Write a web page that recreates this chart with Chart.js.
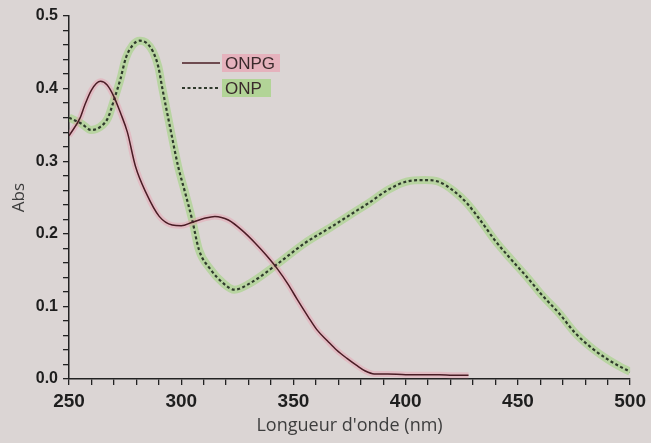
<!DOCTYPE html>
<html>
<head>
<meta charset="utf-8">
<script src="https://cdn.jsdelivr.net/npm/chart.js@4.4.1/dist/chart.umd.min.js"></script>
<style>
    html, body { margin: 0; padding: 0; background: #dbd5d4; }
    #wrap { width: 651px; height: 443px; }
</style>
</head>
<body>
<div id="wrap"><canvas id="spectre" width="651" height="443"></canvas></div>
<script>
// wavelengths (nm) and absorbance
const onpgNm = [250, 255, 257, 260, 264, 267, 270, 273, 276, 279.6, 284.4, 290.2, 296, 300, 305, 310, 315, 321, 327, 333, 338, 343, 347.7, 351.6, 356.5, 360.4, 365.3, 369.2, 374, 378, 382, 386, 392, 400, 408, 415, 421, 428];
const onpgAbs = [0.335, 0.360, 0.377, 0.398, 0.410, 0.405, 0.389, 0.366, 0.340, 0.293, 0.256, 0.224, 0.212, 0.211, 0.216, 0.221, 0.224, 0.219, 0.205, 0.187, 0.170, 0.151, 0.130, 0.110, 0.086, 0.068, 0.052, 0.040, 0.028, 0.019, 0.011, 0.007, 0.007, 0.006, 0.006, 0.006, 0.005, 0.005];

const onpNm = [250, 255.9, 259.8, 263.8, 267.4, 270, 272.9, 275.3, 278.4, 281.5, 284.5, 287.4, 289.8, 291.6, 295.4, 298.6, 301.8, 304.9, 307.9, 312.8, 318.7, 323.7, 330.7, 341.8, 355, 367.1, 376.2, 383.3, 392.4, 400.4, 408.5, 414.4, 421.4, 427.3, 433.2, 439.5, 446.9, 454.7, 460.6, 468.5, 475.3, 483.2, 490, 495, 500];
const onpAbs = [0.360, 0.351, 0.343, 0.347, 0.360, 0.384, 0.413, 0.442, 0.460, 0.466, 0.463, 0.451, 0.430, 0.400, 0.341, 0.293, 0.256, 0.219, 0.178, 0.152, 0.132, 0.123, 0.132, 0.156, 0.187, 0.210, 0.228, 0.242, 0.261, 0.272, 0.274, 0.272, 0.259, 0.242, 0.219, 0.192, 0.165, 0.138, 0.116, 0.090, 0.064, 0.042, 0.027, 0.018, 0.010];

const seriesNames = ['ONPG', 'ONP'];
const yTickLabels = ['0.0', '0.1', '0.2', '0.3', '0.4', '0.5'];
const xTickLabels = ['250', '300', '350', '400', '450', '500'];

function toPoints(xs, ys) {
    return xs.map(function (x, i) { return {x: x, y: ys[i]}; });
}

// legend drawn by hand: line sample + highlighted label
const legendPlugin = {
    id: 'surligneLegende',
    afterDraw(chart) {
        const ctx = chart.ctx;
        const rows = [
            {name: seriesNames[0], y: 63, box: 'rgba(236,150,170,0.55)', dash: [], w: 58},
            {name: seriesNames[1], y: 88, box: 'rgba(150,212,110,0.6)', dash: [3, 2.5], w: 49}
        ];
        ctx.save();
        rows.forEach(function (r) {
            ctx.fillStyle = r.box;
            ctx.fillRect(222, r.y - 9, r.w, 18);
            ctx.strokeStyle = r.dash.length ? '#2f3a2c' : '#4a1c25';
            ctx.lineWidth = r.dash.length ? 2 : 1.6;
            ctx.setLineDash(r.dash);
            ctx.beginPath();
            ctx.moveTo(182, r.y);
            ctx.lineTo(220, r.y);
            ctx.stroke();
            ctx.setLineDash([]);
            ctx.fillStyle = '#3a2a2c';
            ctx.font = '17px "Liberation Sans", Arial, sans-serif';
            ctx.textBaseline = 'middle';
            ctx.fillText(r.name, 225, r.y + 1);
        });
        ctx.restore();
    }
};

function renderChart() {
    const chartID = document.getElementById('spectre').getContext('2d');
    const onpgPts = toPoints(onpgNm, onpgAbs);
    const onpPts = toPoints(onpNm, onpAbs);
    const chart = new Chart(chartID, {
        type: 'line',
        data: {
            datasets: [{
                label: seriesNames[0],
                data: onpgPts,
                borderColor: '#4a1c25',
                borderWidth: 1.5,
                pointRadius: 0,
                cubicInterpolationMode: 'monotone',
                order: 1
            }, {
                label: seriesNames[1],
                data: onpPts,
                borderColor: '#2f3a2c',
                borderWidth: 2.2,
                borderDash: [3, 2.5],
                pointRadius: 0,
                cubicInterpolationMode: 'monotone',
                order: 1
            }, {
                label: 'surligne ONPG',
                data: onpgPts,
                borderColor: 'rgba(236,150,170,0.4)',
                borderWidth: 6,
                pointRadius: 0,
                cubicInterpolationMode: 'monotone',
                order: 2
            }, {
                label: 'surligne ONP',
                data: onpPts,
                borderColor: 'rgba(150,212,110,0.5)',
                borderWidth: 8,
                pointRadius: 0,
                cubicInterpolationMode: 'monotone',
                order: 2
            }]
        },
        options: {
            responsive: false,
            animation: false,
            layout: {padding: {top: 16, right: 18, left: 0, bottom: 0}},
            plugins: {
                legend: {display: false},
                tooltip: {enabled: false}
            },
            scales: {
                x: {
                    type: 'linear',
                    min: 250,
                    max: 500,
                    afterFit: function (scale) { scale.height = 64; },
                    border: {color: '#222', width: 1.5},
                    grid: {drawOnChartArea: false, tickLength: 6, color: '#222', lineWidth: 1.3},
                    ticks: {
                        stepSize: 10,
                        autoSkip: false,
                        maxRotation: 0,
                        padding: 5,
                        color: '#1e1e1e',
                        font: {family: '"Liberation Sans", Arial, sans-serif', size: 19, weight: 'bold'},
                        callback: function (v) {
                            const s = String(Math.round(v));
                            return xTickLabels.includes(s) && Math.abs(v - Math.round(v)) < 1e-6 ? s : '';
                        }
                    },
                    title: {
                        display: true,
                        text: "Longueur d'onde (nm)",
                        color: '#3d3d3d',
                        padding: {top: 0, bottom: 6},
                        font: {family: '"Open Sans", sans-serif', size: 18}
                    }
                },
                y: {
                    min: 0,
                    max: 0.5,
                    afterFit: function (scale) { scale.width = 69; },
                    border: {color: '#222', width: 1.5},
                    grid: {drawOnChartArea: false, tickLength: 6, color: '#222', lineWidth: 1.3},
                    ticks: {
                        stepSize: 0.02,
                        autoSkip: false,
                        padding: 5,
                        color: '#1e1e1e',
                        font: {family: '"Liberation Sans", Arial, sans-serif', size: 16, weight: 'bold'},
                        callback: function (v) {
                            const s = v.toFixed(1);
                            return Math.abs(v * 10 - Math.round(v * 10)) < 1e-6 && yTickLabels.includes(s) ? s : '';
                        }
                    },
                    title: {
                        display: true,
                        text: 'Abs',
                        color: '#3d3d3d',
                        padding: {top: 9, bottom: 0},
                        font: {family: '"Open Sans", sans-serif', size: 17}
                    }
                }
            }
        },
        plugins: [legendPlugin]
    });
}

window.addEventListener("load", function () {
    renderChart();
});
</script>
</body>
</html>
